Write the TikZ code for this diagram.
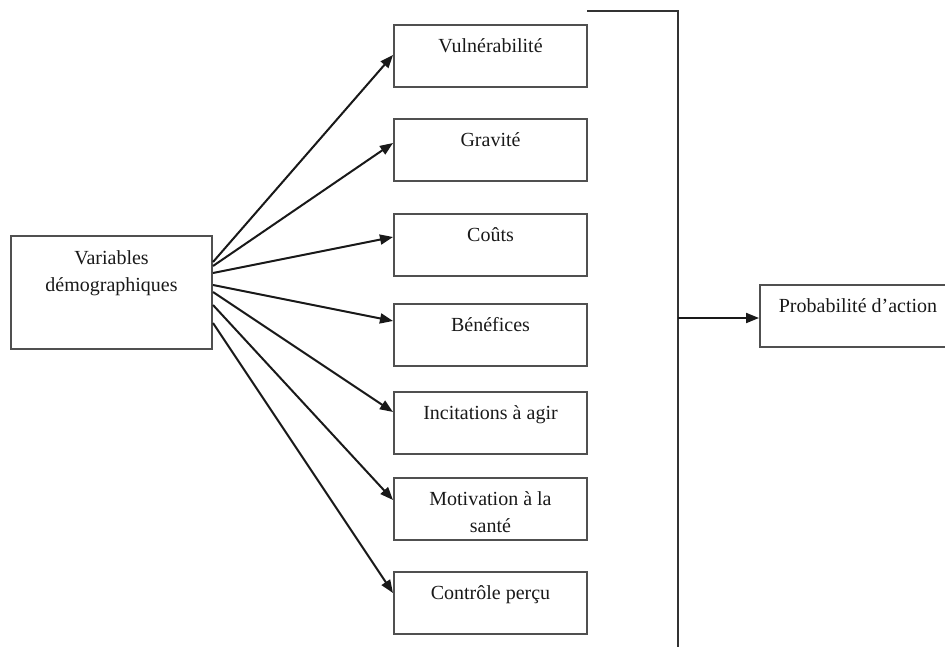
\documentclass[tikz,border=0pt]{standalone}
\usepackage{fontspec}
\setmainfont{Liberation Serif}
\usetikzlibrary{arrows.meta,calc}
\definecolor{boxline}{HTML}{505050}
\definecolor{linegray}{HTML}{333333}
\begin{document}
\begin{tikzpicture}[x=1pt,y=-1pt,
  box/.style={draw=boxline, line width=2pt, minimum width=193pt, minimum height=62pt, inner sep=0pt, anchor=north west},
  txt/.style={font=\fontsize{20}{27}\selectfont, inner sep=0pt, align=center, anchor=north, text=black!90},
  arr/.style={draw=black!90, line width=2pt, -{Triangle[length=13pt,width=10pt]}},
  conn/.style={draw=linegray, line width=1.8pt}]
\clip (0,0) rectangle (945,646);
\useasboundingbox (0,0) rectangle (945,646);
% left box
\node[box, minimum width=201pt, minimum height=113pt] (dem) at (10,235) {};
\node[txt] (demT) at ($(dem.north)+(0,10)$) {Variables\strut\\démographiques\strut};
% middle boxes
\node[box] (vul) at (393,24) {};
\node[box] (gra) at (393,118) {};
\node[box] (cou) at (393,213) {};
\node[box] (ben) at (393,303) {};
\node[box] (inc) at (393,391) {};
\node[box] (mot) at (393,477) {};
\node[box] (con) at (393,571) {};
\node[txt] (vulT) at ($(vul.north)+(0,9)$) {Vulnérabilité\strut};
\node[txt] (graT) at ($(gra.north)+(0,9)$) {Gravité\strut};
\node[txt] (couT) at ($(cou.north)+(0,9)$) {Coûts\strut};
\node[txt] (benT) at ($(ben.north)+(0,9)$) {Bénéfices\strut};
\node[txt] (incT) at ($(inc.north)+(0,9)$) {Incitations à agir\strut};
\node[txt] (motT) at ($(mot.north)+(0,9)$) {Motivation à la\strut\\santé\strut};
\node[txt] (conT) at ($(con.north)+(0,9)$) {Contrôle perçu\strut};
% right box
\node[box, minimum width=196pt] (prob) at (759,284) {};
\node[txt] (probT) at ($(prob.north)+(0,9)$) {Probabilité d’action\strut};
% arrows from left box
\draw[arr] ($(dem.north east)+(0,27)$) -- ($(vul.north west)+(0,31)$);
\draw[arr] ($(dem.north east)+(0,31)$) -- ($(gra.north west)+(0,25)$);
\draw[arr] ($(dem.north east)+(0,38)$) -- ($(cou.north west)+(0,24)$);
\draw[arr] ($(dem.north east)+(0,50)$) -- ($(ben.north west)+(0,18)$);
\draw[arr] ($(dem.north east)+(0,57)$) -- ($(inc.north west)+(0,21)$);
\draw[arr] ($(dem.north east)+(0,70)$) -- ($(mot.north west)+(0,23)$);
\draw[arr] ($(dem.north east)+(0,88)$) -- ($(con.north west)+(0,22)$);
% bracket line
\coordinate (brTop) at (678,11);
\coordinate (brBot) at (678,650);
\coordinate (brMid) at (678,318);
\draw[conn] ($(vul.north east)+(-1,-13)$) -- (brTop) -- (brBot);
\draw[arr] (brMid) -- (prob.west |- brMid);
\end{tikzpicture}
\end{document}
